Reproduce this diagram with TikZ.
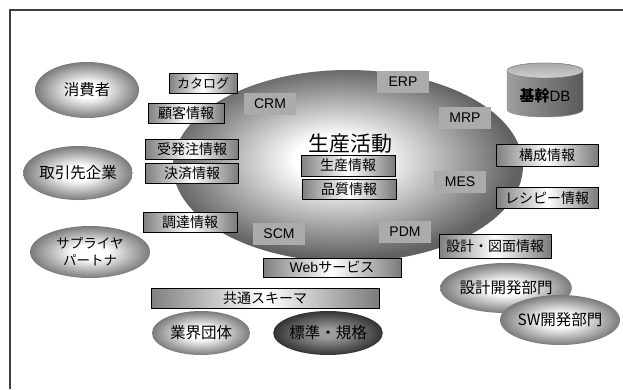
\documentclass[tikz,border=0pt]{standalone}
\usepackage{fontspec}
\setmainfont{Liberation Sans}
\newfontfamily\jp{Noto Sans CJK JP}
\usetikzlibrary{shapes.geometric}
\pgfdeclareradialshading{softball}{\pgfpoint{0bp}{0bp}}{color(0bp)=(white); color(7bp)=(white); color(25bp)=(black!52); color(50bp)=(black!52)}
\pgfdeclareradialshading{coreball}{\pgfpoint{-2bp}{2bp}}{color(0bp)=(white); color(6bp)=(white); color(25bp)=(black!62); color(50bp)=(black!62)}
\pgfdeclareradialshading{darkball}{\pgfpoint{0bp}{0bp}}{color(0bp)=(black!38); color(6bp)=(black!40); color(25bp)=(black!80); color(50bp)=(black!80)}
\begin{document}
\begin{tikzpicture}[x=1pt,y=-1pt,
  smell/.style={ellipse, inner sep=0pt, shading=softball, font=\jp\fontsize{15.5}{18}\selectfont},
  darkell/.style={ellipse, inner sep=0pt, shading=darkball, font=\jp\fontsize{15.5}{18}\selectfont},
  bar/.style={draw=black, line width=0.9pt, left color=black!50, right color=black!52, middle color=white, inner sep=0pt, font=\jp\fontsize{14}{16}\selectfont},
  lab/.style={fill=black!33, inner sep=0pt, minimum width=52pt, minimum height=22pt, font=\fontsize{14}{16}\selectfont}]
\useasboundingbox (0,0) rectangle (623,389);
\fill[white] (0,0) rectangle (623,389);
% frame
\draw[line width=1.5pt, black!75] (623,10) -- (10,10) -- (10,389);
% core ellipse
\node[ellipse, minimum width=350pt, minimum height=192pt, inner sep=0pt, shading=coreball] (core) at (348,166) {};
\node[font=\jp\fontsize{21}{24}\selectfont] (act) at (350,144) {生産活動};
% system labels
\node[lab] (crm) at (270,104) {CRM};
\node[lab] (erp) at (403,82) {ERP};
\node[lab] (mrp) at (465,118) {MRP};
\node[lab] (mes) at (460,182) {MES};
\node[lab] (pdm) at (405,232) {PDM};
\node[lab] (scm) at (279,234) {SCM};
% outer ellipses
\node[smell, minimum width=104pt, minimum height=56pt] (cons) at (87,90) {消費者};
\node[smell, minimum width=106pt, minimum height=54pt] (part) at (78,173) {取引先企業};
\node[smell, minimum width=120pt, minimum height=52pt, align=center, font=\jp\fontsize{13.5}{17}\selectfont] (supp) at (90,252) {サプライヤ\\パートナ};
\node[smell, minimum width=98pt, minimum height=44pt] (ind) at (201,333) {業界団体};
\node[darkell, minimum width=100pt, minimum height=44pt] (std) at (328,333) {標準・規格};
\node[smell, minimum width=114pt, minimum height=50pt] (des) at (506,288) {設計開発部門};
\node[smell, minimum width=116pt, minimum height=50pt] (sw) at (560,320) {SW{\jp 開発部門}};
% bars
\node[bar, minimum width=68pt, minimum height=20pt, font=\jp\fontsize{13}{15}\selectfont] (cat) at (203,83) {カタログ};
\node[bar, minimum width=76pt, minimum height=20pt] (cust) at (186,113) {顧客情報};
\node[bar, minimum width=93pt, minimum height=20pt] (ord) at (192,149) {受発注情報};
\node[bar, minimum width=93pt, minimum height=20pt] (pay) at (192,173) {決済情報};
\node[bar, minimum width=94pt, minimum height=20pt] (proc) at (190,222) {調達情報};
\node[bar, minimum width=94pt, minimum height=21pt] (prod) at (348,165.5) {生産情報};
\node[bar, minimum width=94pt, minimum height=20pt] (qual) at (349,189) {品質情報};
\node[bar, minimum width=102pt, minimum height=22pt] (conf) at (547,155) {構成情報};
\node[bar, minimum width=102pt, minimum height=21pt] (rec) at (547,198) {レシピー情報};
\node[bar, minimum width=112pt, minimum height=24pt] (dwg) at (495,246) {設計・図面情報};
\node[bar, minimum width=138pt, minimum height=19pt, font=\fontsize{14}{16}\selectfont] (web) at (332,267.5) {Web{\jp サービス}};
\node[bar, minimum width=228pt, minimum height=20pt] (schema) at (265,298) {共通スキーマ};
% cylinder
\path[draw=black!45, line width=0.4pt, left color=black!38, middle color=black!12, right color=black!65]
  (507,70.5) -- (507,109.5) arc[start angle=180, end angle=360, x radius=38pt, y radius=7.5pt]
  -- (583,70.5) arc[start angle=0, end angle=180, x radius=38pt, y radius=7.5pt] -- cycle;
\path[draw=black!50, line width=0.4pt, top color=black!35, bottom color=black!18] (545,70.5) ellipse [x radius=38pt, y radius=7.5pt];
\node[font=\fontsize{15}{17}\selectfont] (db) at (545,96) {{\jp\bfseries 基幹}DB};
\end{tikzpicture}
\end{document}
